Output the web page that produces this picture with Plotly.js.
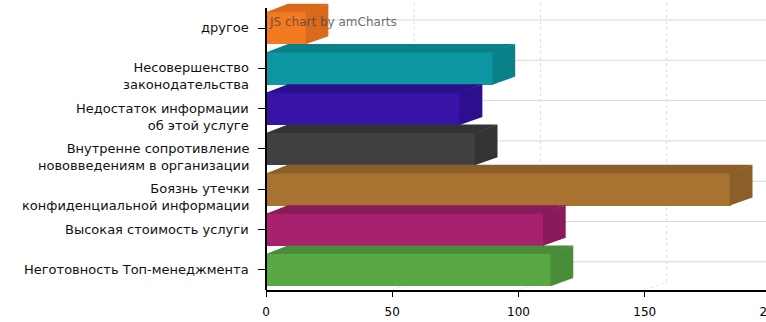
<!DOCTYPE html>
<html>
<head>
<meta charset="utf-8">
<script src="https://cdn.plot.ly/plotly-3.0.1.min.js"></script>
<style>
html,body{margin:0;padding:0;overflow:hidden;background:#fff;}
#chart{width:785px;height:322px;}
</style>
</head>
<body>
<div id="chart"></div>
<script>
// ---- data (bottom to top) ----
const categories = [
  'Неготовность Топ-менеджмента',
  'Высокая стоимость услуги',
  'Боязнь утечки<br>конфиденциальной информации',
  'Внутренне сопротивление<br>нововведениям в организации',
  'Недостаток информации<br>об этой услуге',
  'Несовершенство<br>законодательства',
  'другое'
];
const values = [113, 110, 184, 83, 77, 90, 16];
const frontColors = ['#5AA843', '#A8216E', '#A87330', '#404040', '#3713A8', '#0D97A2', '#F37A21'];
const shadeColors = ['#4A8C37', '#8A1B5B', '#8C5F28', '#333333', '#2C0F8C', '#0A8089', '#D96A1C'];
const xTicks = [0, 50, 100, 150, 200];

// ---- 3D geometry (in axis units) ----
const DX = 8.7;     // depth offset along value axis
const DY = 0.2;     // depth offset along category axis
const HALF = 0.405; // half bar thickness
const EPS = 0.012;  // tiny overlap to avoid seams
const yMin = -0.5, yMax = 6.696;
const xMax = 202;

const idx = categories.map((c, i) => i);
const traces = [];
idx.forEach(i => {
  const v = values[i], yt = i + HALF, yb = i - HALF;
  traces.push({
    type: 'scatter', mode: 'lines', fill: 'toself',
    x: [0, v, v + DX, DX, 0], y: [yt - EPS, yt - EPS, yt + DY, yt + DY, yt - EPS],
    fillcolor: shadeColors[i], line: {width: 0, color: shadeColors[i]},
    hoverinfo: 'skip', showlegend: false
  });
  traces.push({
    type: 'scatter', mode: 'lines', fill: 'toself',
    x: [v - 0.3, v + DX, v + DX, v - 0.3, v - 0.3], y: [yb, yb + DY, yt + DY, yt, yb],
    fillcolor: shadeColors[i], line: {width: 0, color: shadeColors[i]},
    hoverinfo: 'skip', showlegend: false
  });
});
traces.push({
  type: 'bar', orientation: 'h',
  x: values, y: idx, width: 2 * HALF,
  marker: {color: frontColors, line: {width: 0}},
  showlegend: false, hoverinfo: 'x'
});

const shapes = [];
idx.forEach(i => {
  shapes.push({type: 'line', layer: 'below', xref: 'x', yref: 'y',
    x0: DX, x1: 240, y0: i + DY, y1: i + DY,
    line: {color: '#d9d9d9', width: 1}});
});
xTicks.filter(v => v > 0).forEach(v => {
  shapes.push({type: 'line', layer: 'below', xref: 'x', yref: 'y',
    x0: v + DX, x1: v + DX, y0: yMin + DY, y1: yMax + 1,
    line: {color: '#dcdcdc', width: 1, dash: '3px,3px'}});
  shapes.push({type: 'line', layer: 'below', xref: 'x', yref: 'y',
    x0: v, x1: v + DX, y0: yMin, y1: yMin + DY,
    line: {color: '#e4e4e4', width: 1, dash: '3px,3px'}});
});
// category axis line (front)
shapes.push({type: 'line', layer: 'above', xref: 'paper', yref: 'paper',
  x0: 0, x1: 0, y0: 0, y1: (6.5 - yMin) / (yMax - yMin),
  line: {color: '#000', width: 2}});

const annotations = idx.map(i => ({
  xref: 'x', yref: 'y', x: 0, y: i,
  xanchor: 'right', yanchor: 'top', xshift: -15, yshift: 10,
  align: 'right', showarrow: false, text: categories[i],
  font: {family: 'DejaVu Sans, Verdana, sans-serif', size: 13, color: '#111'}
}));
annotations.push({
  xref: 'paper', yref: 'paper', x: 0, y: 1, xanchor: 'left', yanchor: 'top',
  xshift: 1, yshift: -13, showarrow: false, text: 'JS chart by amCharts',
  font: {family: 'DejaVu Sans, Verdana, sans-serif', size: 12, color: 'rgba(70,70,70,0.8)'}
});

const layout = {
  width: 785, height: 322,
  margin: {l: 266, r: 785 - 266 - Math.round(xMax * 2.527), t: 0, b: 32},
  paper_bgcolor: '#fff', plot_bgcolor: '#fff',
  showlegend: false,
  bargap: 0,
  xaxis: {
    range: [0, xMax], tickvals: xTicks, ticktext: xTicks.map(String),
    showgrid: false, zeroline: false,
    showline: true, linecolor: '#000', linewidth: 2,
    ticks: 'outside', ticklen: 5, tickwidth: 1, tickcolor: '#000',
    ticklabelstandoff: 5,
    tickfont: {family: 'DejaVu Sans, Verdana, sans-serif', size: 12, color: '#000'}
  },
  yaxis: {
    range: [yMin, yMax], tickvals: idx, showticklabels: false,
    showgrid: false, zeroline: false, showline: false,
    ticks: 'outside', ticklen: 7, tickwidth: 1, tickcolor: '#000'
  },
  shapes: shapes,
  annotations: annotations
};

Plotly.newPlot('chart', traces, layout, {displayModeBar: false, staticPlot: true});
</script>
</body>
</html>
